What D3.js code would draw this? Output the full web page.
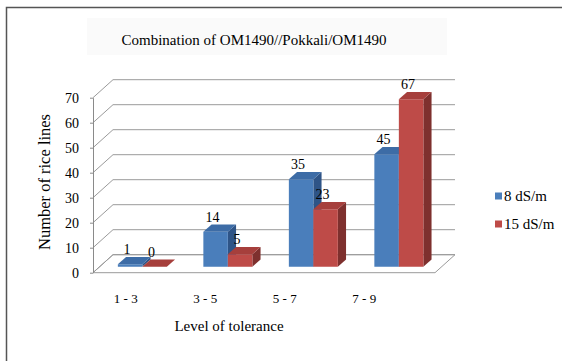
<!DOCTYPE html>
<html>
<head>
<meta charset="utf-8">
<script src="https://cdn.jsdelivr.net/npm/d3@7"></script>
<style>
  body { margin: 0; background: #fff; }
  svg { display: block; }
</style>
</head>
<body>
<div id="chart"></div>
<script>
// data
const categories = ["1 - 3", "3 - 5", "5 - 7", "7 - 9"];
const seriesNames = ["8 dS/m", "15 dS/m"];
const values8 = [1, 14, 35, 45];
const values15 = [0, 5, 23, 67];
const yTicks = [0, 10, 20, 30, 40, 50, 60, 70];

const width = 562,
      height = 361;

const serif = "'Times New Roman', 'Liberation Serif', Tinos, serif";

// 3d depth of the plot box and of the bars
const depthX = 20, depthY = -18;
const barFront = 0.33, barBack = 0.74;

const colors = {
  "8 dS/m": { front: "#4a7ebb", top: "#3d6ca6", side: "#2e5487" },
  "15 dS/m": { front: "#be4b48", top: "#a63f3c", side: "#7e302e" }
};

const svg = d3.select("#chart")
  .append("svg")
  .attr("width", width)
  .attr("height", height)
  .style("font-family", serif);

// outer frame (left and top edges only)
svg.append("path")
  .attr("d", "M6.5," + height + "V7.5H" + width)
  .attr("fill", "none")
  .attr("stroke", "#555")
  .attr("stroke-width", 1.5);

// faint title box
svg.append("rect")
  .attr("x", 87).attr("y", 18)
  .attr("width", 360).attr("height", 37)
  .attr("fill", "#fafafa");

svg.append("text")
  .attr("x", 254)
  .attr("y", 45)
  .attr("text-anchor", "middle")
  .style("font-family", serif)
  .style("font-size", "15px")
  .text("Combination of OM1490//Pokkali/OM1490");

// scales on the front plane
const yScale = d3.scaleLinear()
  .domain([0, 70])
  .range([272.7, 97.7]);

const xScale = d3.scaleBand()
  .domain(categories)
  .range([93, 435])
  .paddingInner(0.427)
  .paddingOuter(0.2135);

const xSub = d3.scaleBand()
  .domain(seriesNames)
  .range([0, xScale.bandwidth()]);

// category labels sit on their own spacing in the original
const xLabel = d3.scaleBand()
  .domain(categories)
  .range([86, 404]);

const proj = (x, v, d) => [x + depthX * d, yScale(v) + depthY * d];

// floor
const x0 = xScale.range()[0], x1 = xScale.range()[1];
const floor = [proj(x0, 0, 0), proj(x1, 0, 0), proj(x1, 0, 1), proj(x0, 0, 1)];
svg.append("path")
  .attr("d", "M" + floor.join("L") + "Z")
  .attr("fill", "#fff")
  .attr("stroke", "#9a9a9a")
  .attr("stroke-width", 1);

// gridlines: left wall diagonal + back wall line
svg.append("g")
  .selectAll("path")
  .data(yTicks)
  .enter()
  .append("path")
  .attr("d", (d) => {
    const a = proj(x0, d, 0), b = proj(x0, d, 1), c = proj(x1, d, 1);
    return "M" + a + "L" + b + "L" + c;
  })
  .attr("fill", "none")
  .attr("stroke", "#9a9a9a")
  .attr("stroke-width", 1);

// y axis on the front left edge
const yAxis = d3.axisLeft(yScale)
  .tickValues(yTicks)
  .tickSize(3)
  .tickSizeOuter(0)
  .tickPadding(11);

const yAxisG = svg.append("g")
  .attr("transform", "translate(" + x0 + ",0)")
  .call(yAxis)
  .attr("font-family", null)
  .attr("font-size", null);
yAxisG.select(".domain").attr("stroke", "#8a8a8a");
yAxisG.selectAll(".tick line").attr("stroke", "#8a8a8a");
yAxisG.selectAll(".tick text")
  .style("font-family", serif)
  .style("font-size", "14px")
  .attr("fill", "#000");

// y axis title
svg.append("text")
  .attr("transform", "translate(50,182) rotate(-90)")
  .attr("text-anchor", "middle")
  .style("font-family", serif)
  .style("font-size", "16.5px")
  .text("Number of rice lines");

// bars as 3d boxes
const bars = [];
categories.forEach((c, i) => {
  bars.push({ cat: c, series: seriesNames[0], value: values8[i] });
  bars.push({ cat: c, series: seriesNames[1], value: values15[i] });
});

const barG = svg.append("g");
bars.forEach((b) => {
  const xl = xScale(b.cat) + xSub(b.series);
  const xr = xl + xSub.bandwidth();
  const col = colors[b.series];
  const g = barG.append("g");

  const front = [proj(xl, 0, barFront), proj(xr, 0, barFront), proj(xr, b.value, barFront), proj(xl, b.value, barFront)];
  const side = [proj(xr, 0, barFront), proj(xr, 0, barBack), proj(xr, b.value, barBack), proj(xr, b.value, barFront)];
  const top = [proj(xl, b.value, barFront), proj(xr, b.value, barFront), proj(xr, b.value, barBack), proj(xl, b.value, barBack)];

  g.append("path").attr("d", "M" + side.join("L") + "Z").attr("fill", col.side);
  g.append("path").attr("d", "M" + front.join("L") + "Z").attr("fill", col.front);
  g.append("path").attr("d", "M" + top.join("L") + "Z").attr("fill", col.top);
});

// value labels
svg.append("g")
  .selectAll("text")
  .data(bars)
  .enter()
  .append("text")
  .attr("x", (d) => proj(xScale(d.cat) + xSub(d.series) + xSub.bandwidth() / 2, d.value, barFront)[0] - 3)
  .attr("y", (d) => proj(0, d.value, barFront)[1] - 10)
  .attr("text-anchor", "middle")
  .style("font-family", serif)
  .style("font-size", "14px")
  .text((d) => d.value);

// category labels
svg.append("g")
  .selectAll("text")
  .data(categories)
  .enter()
  .append("text")
  .attr("x", (d) => xLabel(d) + xLabel.bandwidth() / 2)
  .attr("y", 303)
  .attr("text-anchor", "middle")
  .style("font-family", serif)
  .style("font-size", "13px")
  .text((d) => d);

// x axis title
svg.append("text")
  .attr("x", 229)
  .attr("y", 331)
  .attr("text-anchor", "middle")
  .style("font-family", serif)
  .style("font-size", "15px")
  .text("Level of tolerance");

// legend
const legend = svg.append("g")
  .attr("transform", "translate(495,196)");

const legendItem = legend.selectAll("g")
  .data(seriesNames)
  .enter()
  .append("g")
  .attr("transform", (d, i) => "translate(0," + (i * 28) + ")");

legendItem.append("rect")
  .attr("x", 0)
  .attr("y", -3.5)
  .attr("width", 7)
  .attr("height", 7)
  .attr("fill", (d) => colors[d].front);

legendItem.append("text")
  .attr("x", 9)
  .attr("y", 5)
  .style("font-family", serif)
  .style("font-size", "15px")
  .text((d) => d);
</script>
</body>
</html>
